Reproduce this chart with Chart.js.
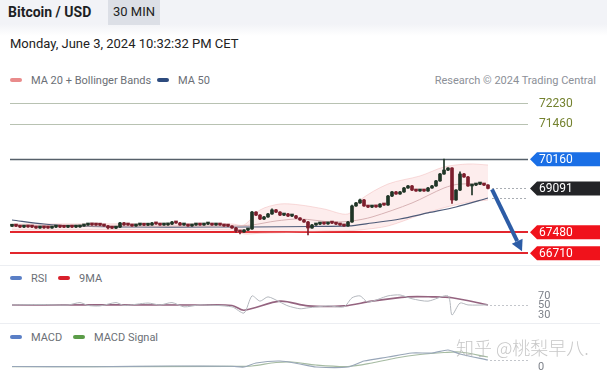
<!DOCTYPE html>
<html>
<head>
<meta charset="utf-8">
<script src="https://cdn.jsdelivr.net/npm/chart.js@4.4.1/dist/chart.umd.min.js"></script>
<style>
  body { margin: 0; width: 607px; height: 370px; overflow: hidden; background: #fff; position: relative;
         font-family: Roboto, "Liberation Sans", sans-serif; }
  .abs { position: absolute; white-space: nowrap; }
  #head { left: 0; top: 0; width: 607px; height: 36px; background: linear-gradient(#f2f3f7 0, #f2f3f7 24px, #fff 36px); }
  #title { left: 8px; top: 4px; font-size: 14px; font-weight: bold; color: #1d1f24; }
  #badge { left: 108px; top: 0; width: 52px; height: 25px; line-height: 24px; text-align: center; background: #dcdfe6; font-size: 13px; color: #222; }
  #date { left: 10px; top: 36px; font-size: 13px; color: #222; }
  .leg { font-size: 11px; color: #6b6f76; }
  .sw { display: inline-block; width: 12px; height: 4px; border-radius: 2px; vertical-align: middle; margin-right: 9px; position: relative; top: -1px; }
  .sep { left: 0; width: 600px; height: 1px; background: #eceef2; }
  #mark { left: 456px; top: 334px; font-size: 18px; color: rgba(175,175,175,0.7); font-family: "Noto Sans CJK SC", sans-serif; font-weight: 300; }
  canvas { position: absolute; left: 0; }
</style>
</head>
<body>
<div class="abs" id="head"></div>
<div class="abs" id="title">Bitcoin / USD</div>
<div class="abs" id="badge">30 MIN</div>
<div class="abs" id="date">Monday, June 3, 2024 10:32:32 PM CET</div>

<div class="abs leg" style="left:10px;top:74px"><span class="sw" style="background:#e98b8b"></span>MA 20 + Bollinger Bands</div>
<div class="abs leg" style="left:157px;top:74px"><span class="sw" style="background:#2d4b7e"></span>MA 50</div>
<div class="abs leg" style="right:11px;top:74px;color:#8c9098">Research © 2024 Trading Central</div>

<div class="abs sep" style="top:265px"></div>
<div class="abs leg" style="left:10px;top:272px"><span class="sw" style="background:#5a7fc6"></span>RSI</div>
<div class="abs leg" style="left:58px;top:272px"><span class="sw" style="background:#d8202b"></span>9MA</div>

<div class="abs sep" style="top:323px"></div>
<div class="abs leg" style="left:10px;top:331px"><span class="sw" style="background:#5a7fc6"></span>MACD</div>
<div class="abs leg" style="left:73px;top:331px"><span class="sw" style="background:#5b9c48"></span>MACD Signal</div>

<canvas id="main" width="607" height="175" style="top:90px"></canvas>
<canvas id="rsi" width="607" height="40" style="top:284px"></canvas>
<canvas id="macd" width="607" height="40" style="top:340px"></canvas>
<div class="abs" id="mark">知乎 @桃梨早八.</div>

<script>
// 30 min candles, closes (open = previous close)
const firstOpen = 67700;
const closes = [
  67710, 67705, 67670, 67710, 67675, 67670, 67635, 67675, 67640, 67635,
  67670, 67675, 67670, 67665, 67680, 67670, 67675, 67710, 67745, 67780,
  67750, 67745, 67740, 67710, 67640, 67630, 67670, 67820, 67750, 67745,
  67710, 67745, 67750, 67740, 67745, 67820, 67785, 67745, 67750, 67780,
  67855, 67820, 67745, 67750, 67710, 67745, 67750, 67745, 67780, 67785,
  67745, 67750, 67745, 67710, 67705, 67635, 67525, 67490, 67560, 67600,
  68220, 68110, 67965, 68040, 68150, 68300, 68220, 68110, 68150, 68075,
  68080, 68000, 67930, 67855, 67635, 67745, 67780, 67820, 67785, 67820,
  67815, 67780, 67745, 67710, 67855, 68445, 68555, 68665, 68445, 68405,
  68445, 68410, 68515, 68480, 68810, 68960, 68885, 68960, 69105, 69180,
  69030, 68995, 69030, 68995, 69105, 69180, 69365, 69620, 69765, 69840,
  68665, 69030, 69620, 69510, 69180, 69215, 69250, 69255, 69215, 69091
];
const wickHigh = { 60: 68250, 65: 68340, 85: 68480, 87: 68700, 94: 68840, 108: 70170, 110: 69860, 112: 69700 };
const wickLow = { 24: 67600, 56: 67470, 57: 67420, 74: 67380, 110: 68540, 115: 68850 };

// indicator lines [candle index, value]
const ma50 = [[0, 67929], [8, 67782], [15, 67709], [30, 67672], [50, 67672], [60, 67672], [75, 67690],
              [84, 67709], [90, 67819], [97, 67966], [104, 68190], [111, 68407], [119, 68738]];
const ma20 = [[0, 67709], [55, 67709], [60, 67745], [66, 67893], [72, 67966], [80, 67856], [85, 67893],
              [90, 68039], [100, 68554], [108, 69105], [112, 69252], [119, 69216]];
const bandUpper = [[0, 67782], [55, 67782], [58, 67745], [62, 68297], [67, 68517], [72, 68481], [78, 68334],
                   [84, 68150], [87, 68664], [94, 69252], [102, 69547], [108, 69877], [114, 69988], [119, 69951]];
const bandLower = [[0, 67562], [55, 67562], [58, 67414], [62, 67440], [67, 67460], [72, 67488], [78, 67520],
                   [84, 67540], [87, 67562], [94, 67709], [102, 68113], [108, 68380], [114, 68580], [119, 68664]];

// key levels
const resistances = [72230, 71460, 70160];
const supports = [67480, 66710];
const lastPrice = 69091;

// RSI panel
const rsi = [[0, 51], [7, 52], [14, 51], [17, 56], [19, 50], [22, 49], [26, 56], [28, 50], [34, 55], [37, 51],
             [40, 56], [43, 47], [47, 51], [55, 47], [58, 34], [60, 70], [62, 59], [64, 68], [67, 57], [69, 49],
             [72, 43], [74, 45], [79, 49], [83, 47], [85, 66], [87, 70], [89, 57], [94, 70], [97, 72], [100, 64],
             [104, 59], [109, 70], [110, 30], [112, 55], [114, 51], [119, 51]];
const rsiMa = [[0, 51], [47, 51], [55, 50], [58, 40], [67, 59], [74, 49], [83, 49], [90, 59], [99, 68],
               [105, 68], [110, 66], [119, 51]];
const rsiTicks = [70, 50, 30];

// MACD panel
const macd = [[0, 10], [20, 5], [40, 20], [55, 15], [58, 0], [61, 80], [67, 120], [72, 60], [76, 0], [84, 0],
              [88, 120], [94, 200], [100, 280], [105, 280], [109, 340], [112, 260], [119, 140]];
const macdSignal = [[0, 8], [55, 12], [60, 20], [66, 90], [70, 100], [76, 40], [84, 10], [90, 80], [96, 180],
                    [102, 250], [108, 290], [112, 300], [119, 200]];
const macdTicks = [0];

Chart.defaults.font.family = 'Roboto, "Liberation Sans", sans-serif';

const xRange = { type: 'linear', min: -0.5, max: 129, offset: false, display: false };
const pad = { left: 10, right: 79, top: 0, bottom: 0 };
const pts = arr => arr.map(p => ({ x: p[0], y: p[1] }));

const opens = closes.map((c, i) => i === 0 ? firstOpen : closes[i - 1]);
const highs = closes.map((c, i) => wickHigh[i] ?? Math.max(opens[i], c) + 20);
const lows = closes.map((c, i) => wickLow[i] ?? Math.min(opens[i], c) - 20);
const candleColor = ctx => closes[ctx.dataIndex] >= opens[ctx.dataIndex] ? '#1f3526' : '#7d1e2c';

function line(ctx, x1, y1, x2, y2) {
  ctx.beginPath(); ctx.moveTo(x1, y1); ctx.lineTo(x2, y2); ctx.stroke();
}
function tag(ctx, xl, py, fill, text) {
  ctx.beginPath();
  ctx.moveTo(xl, py); ctx.lineTo(xl + 7, py - 7); ctx.lineTo(600, py - 7);
  ctx.lineTo(600, py + 7); ctx.lineTo(xl + 7, py + 7); ctx.closePath();
  ctx.fillStyle = fill; ctx.fill();
  ctx.fillStyle = '#fff'; ctx.font = '12px Roboto, "Liberation Sans", sans-serif';
  ctx.textBaseline = 'middle'; ctx.textAlign = 'left';
  ctx.fillText(text, xl + 9, py + 0.5);
}

const levelPlugin = {
  id: 'levels',
  beforeDatasetsDraw(chart) {
    const { ctx, chartArea: a, scales: { y } } = chart;
    ctx.save();
    resistances.forEach((v, k) => {
      const py = Math.round(y.getPixelForValue(v)) + 0.5;
      const near = k === resistances.length - 1;
      ctx.strokeStyle = near ? '#56606a' : '#b8c2b2';
      ctx.lineWidth = near ? 1.5 : 1;
      line(ctx, a.left, py, a.right, py);
    });
    supports.forEach(v => {
      const py = Math.round(y.getPixelForValue(v));
      ctx.strokeStyle = '#e2262d';
      ctx.lineWidth = 2;
      line(ctx, a.left, py, a.right, py);
    });
    ctx.restore();
  },
  afterDraw(chart) {
    const { ctx, chartArea: a, scales: { x, y } } = chart;
    const n = closes.length;
    const endX = x.getPixelForValue(n - 0.5);
    ctx.save();
    // dotted guides from last candle
    ctx.setLineDash([2, 2]);
    ctx.strokeStyle = '#a9adb3';
    ctx.lineWidth = 1;
    [lastPrice, ma50[ma50.length - 1][1]].forEach(v => {
      const py = Math.round(y.getPixelForValue(v)) + 0.5;
      line(ctx, endX + 2, py, a.right, py);
    });
    ctx.setLineDash([]);
    // labels
    resistances.forEach((v, k) => {
      const py = y.getPixelForValue(v);
      if (k === resistances.length - 1) {
        tag(ctx, a.right + 2, py, '#1a6fe6', String(v));
      } else {
        ctx.fillStyle = '#74822f'; ctx.font = '12px Roboto, "Liberation Sans", sans-serif';
        ctx.textBaseline = 'middle'; ctx.textAlign = 'left';
        ctx.fillText(String(v), a.right + 11, py + 0.5);
      }
    });
    tag(ctx, a.right + 2, y.getPixelForValue(lastPrice), '#232427', String(lastPrice));
    supports.forEach(v => tag(ctx, a.right + 2, y.getPixelForValue(v), '#f0121b', String(v)));
    // arrow towards the lower support
    const x1 = endX + 2, y1 = y.getPixelForValue(lastPrice) + 1;
    const x2 = a.right - 6, y2 = y.getPixelForValue(supports[1]) - 2;
    const ang = Math.atan2(y2 - y1, x2 - x1);
    const hx = x2 - 11 * Math.cos(ang), hy = y2 - 11 * Math.sin(ang);
    ctx.strokeStyle = '#2c5ca6'; ctx.fillStyle = '#2c5ca6';
    ctx.lineWidth = 4; ctx.lineCap = 'butt';
    line(ctx, x1, y1, hx, hy);
    ctx.beginPath();
    ctx.moveTo(x2, y2);
    ctx.lineTo(hx + 6 * Math.sin(ang), hy - 6 * Math.cos(ang));
    ctx.lineTo(hx - 6 * Math.sin(ang), hy + 6 * Math.cos(ang));
    ctx.closePath(); ctx.fill();
    ctx.restore();
  }
};

new Chart(document.getElementById('main').getContext('2d'), {
  type: 'bar',
  data: {
    datasets: [
      { type: 'line', data: pts(bandUpper), borderColor: 'rgba(238,170,170,0.5)', borderWidth: 0.8,
        backgroundColor: 'rgba(245,165,165,0.2)', fill: '+1', pointRadius: 0, tension: 0.3, order: 3 },
      { type: 'line', data: pts(bandLower), borderColor: 'rgba(238,170,170,0.5)', borderWidth: 0.8,
        pointRadius: 0, tension: 0.3, fill: false, order: 3 },
      { type: 'line', data: pts(ma20), borderColor: '#d7b2b4', borderWidth: 1, pointRadius: 0, tension: 0.3, order: 2 },
      { type: 'line', data: pts(ma50), borderColor: '#4d5a78', borderWidth: 1.2, pointRadius: 0, tension: 0.3, order: 2 },
      { data: closes.map((c, i) => ({ x: i, y: [lows[i], highs[i]] })), backgroundColor: candleColor,
        barThickness: 1, grouped: false, order: 1 },
      { data: closes.map((c, i) => ({ x: i, y: [opens[i], c] })), backgroundColor: candleColor,
        barThickness: 3, minBarLength: 2, grouped: false, order: 0 }
    ]
  },
  options: {
    responsive: false, animation: false, devicePixelRatio: 1, events: [],
    layout: { padding: pad },
    plugins: { legend: { display: false }, tooltip: { enabled: false } },
    scales: { x: xRange, y: { min: 66274, max: 72708, display: false } }
  },
  plugins: [levelPlugin]
});

function panelPlugin(id, series, ticks) {
  return {
    id,
    afterDraw(chart) {
      const { ctx, chartArea: a, scales: { x, y } } = chart;
      const last = series[series.length - 1];
      ctx.save();
      ctx.setLineDash([2, 2]); ctx.strokeStyle = '#c3c6cb'; ctx.lineWidth = 1;
      const py = Math.round(y.getPixelForValue(last[1])) + 0.5;
      line(ctx, x.getPixelForValue(last[0]) + 2, py, a.right, py);
      ctx.setLineDash([]);
      ctx.fillStyle = '#7d8189'; ctx.font = '11px Roboto, "Liberation Sans", sans-serif';
      ctx.textBaseline = 'middle'; ctx.textAlign = 'left';
      ticks.forEach(t => ctx.fillText(String(t), a.right + 10, y.getPixelForValue(t)));
      ctx.restore();
    }
  };
}

function panel(id, a, b, colA, colB, wA, wB, ymin, ymax, ticks) {
  new Chart(document.getElementById(id).getContext('2d'), {
    type: 'line',
    data: {
      datasets: [
        { data: pts(a), borderColor: colA, borderWidth: wA, pointRadius: 0, tension: 0.25 },
        { data: pts(b), borderColor: colB, borderWidth: wB, pointRadius: 0, tension: 0.3 }
      ]
    },
    options: {
      responsive: false, animation: false, devicePixelRatio: 1, events: [],
      layout: { padding: pad },
      plugins: { legend: { display: false }, tooltip: { enabled: false } },
      scales: { x: xRange, y: { min: ymin, max: ymax, display: false } }
    },
    plugins: [panelPlugin(id + 'Lab', a, ticks)]
  });
}

panel('rsi', rsi, rsiMa, '#b3b7bd', '#94637f', 1, 1.6, 11, 95, rsiTicks);
panel('macd', macd, macdSignal, '#98a6b8', '#a6bba2', 1.2, 1.2, -260, 540, macdTicks);
</script>
</body>
</html>
